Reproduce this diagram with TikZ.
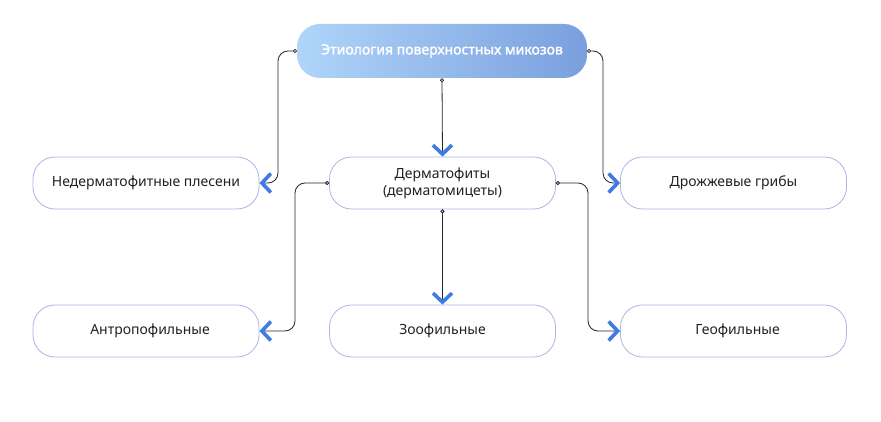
\documentclass[tikz,border=0pt]{standalone}
\usepackage{fontspec}
\setmainfont{Noto Sans}
\newfontfamily\topfont{Noto Sans}[FakeBold=1.6]
\usetikzlibrary{arrows.meta}
\definecolor{bord}{HTML}{A8B6E6}
\definecolor{gradL}{HTML}{AFD5F9}
\definecolor{gradR}{HTML}{7B9FDE}
\definecolor{arrblue}{HTML}{3F7BE0}
\definecolor{txt}{HTML}{222222}
\tikzset{
  box/.style={draw=bord, line width=0.8pt, rounded corners=22pt, minimum width=226pt, minimum height=52pt, fill=white, text=txt, font=\fontsize{14}{17}\selectfont, align=center, inner sep=0pt},
  topbox/.style={rounded corners=23pt, minimum width=290pt, minimum height=54pt, left color=gradL, right color=gradR, draw=none, text=white, font=\topfont\fontsize{14}{17}\selectfont, inner sep=0pt},
  conn/.style={draw=black!85, line width=0.8pt, rounded corners=10pt, {Circle[open, length=4pt, width=4pt, fill=white]}-{Straight Barb[color=arrblue, length=9pt, width=19pt, line width=3.6pt]}},
}
\begin{document}
\begin{tikzpicture}[x=1pt,y=-1pt]
\useasboundingbox (0,0) rectangle (881,422);
\node[topbox] (top) at (442,51) {Этиология поверхностных микозов};
\node[box] (nd) at (146,183) {Недерматофитные плесени};
\node[box] (dm) at (442.5,183) {Дерматофиты\\(дерматомицеты)};
\node[box] (dr) at (733.5,183) {Дрожжевые грибы};
\node[box] (an) at (146,331) {\hspace*{8pt}Антропофильные};
\node[box] (zo) at (442.5,331) {Зоофильные};
\node[box] (ge) at (733.5,331) {\hspace*{8pt}Геофильные};
\coordinate (tl) at (297,51);
\coordinate (tr) at (587,51);
\draw[conn] (tl) -- (278,51) -- (278,183) -- (nd.east);
\draw[conn] (top.south) -- (dm.north);
\draw[conn] (tr) -- (603,51) -- (603,183) -- (dr.west);
\draw[conn] (dm.west) -- (295,183) -- (295,331) -- (an.east);
\draw[conn] (dm.south) -- (zo.north);
\draw[conn] (dm.east) -- (588,183) -- (588,331) -- (ge.west);
\end{tikzpicture}
\end{document}
